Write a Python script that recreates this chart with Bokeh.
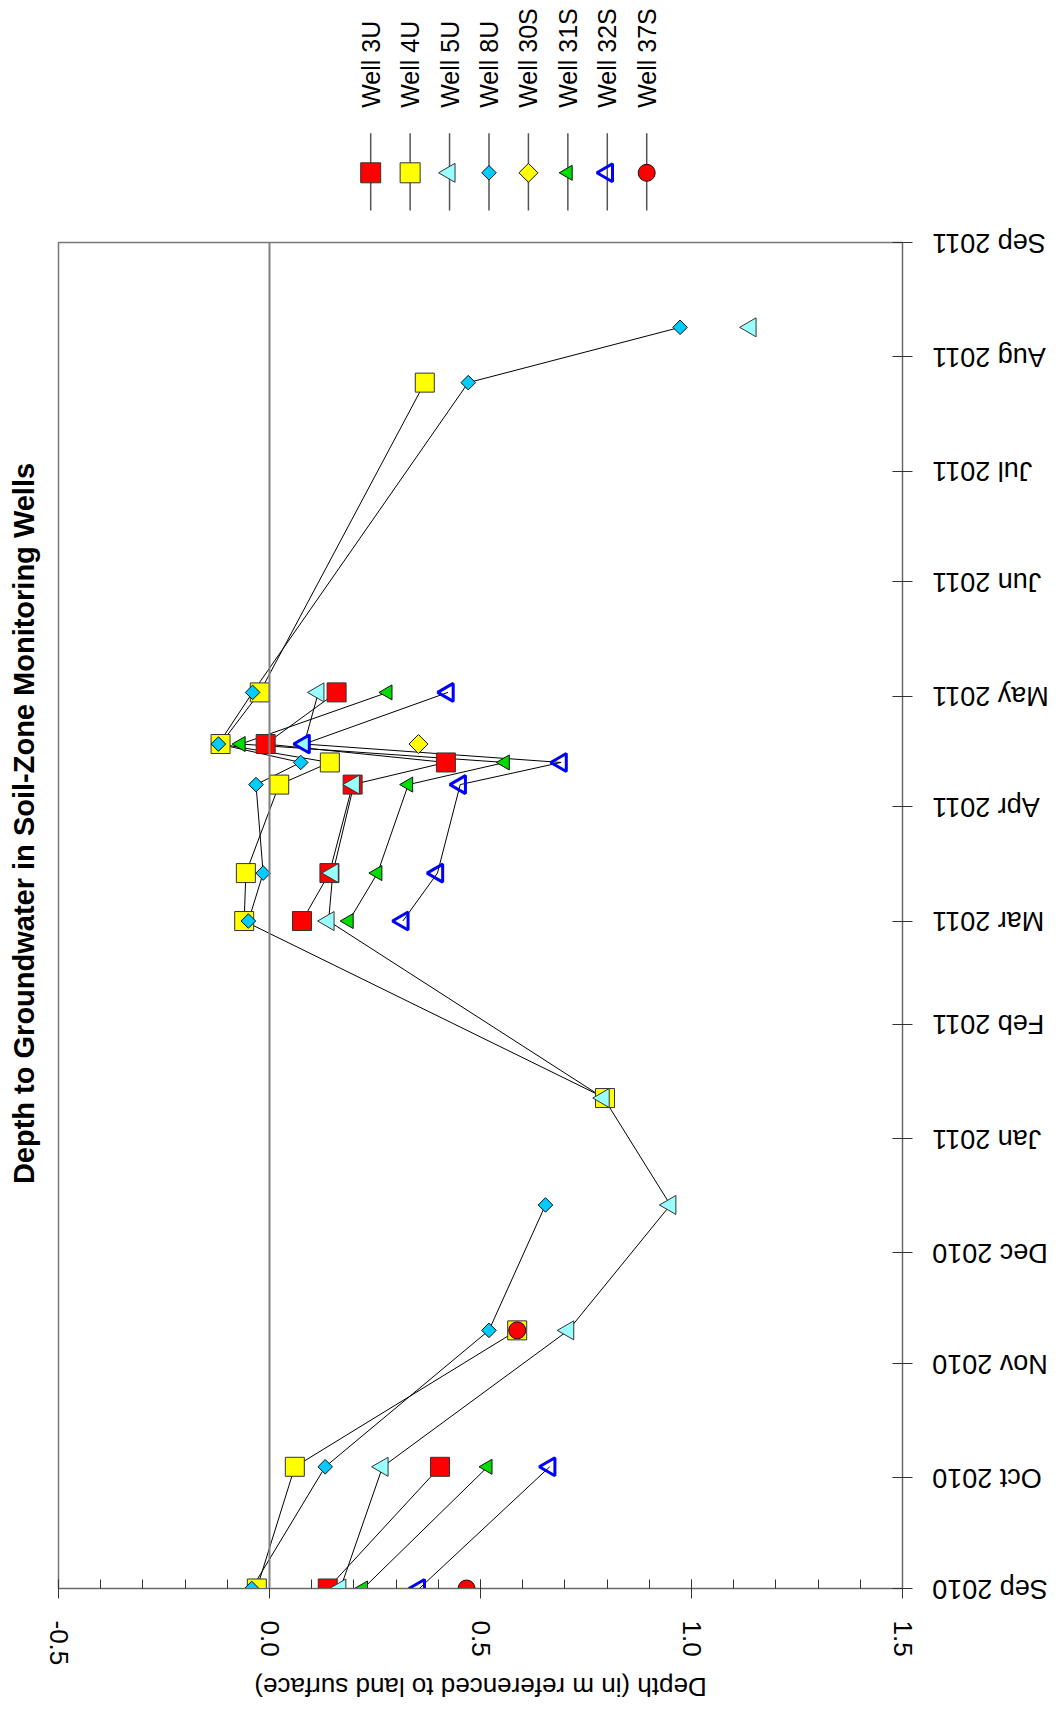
import math
from datetime import datetime
import numpy as np
from bokeh.plotting import figure
from bokeh.layouts import column, row
from bokeh.models import (Range1d, Span, SingleIntervalTicker, NumeralTickFormatter,
                          MonthsTicker, CustomJSTickFormatter, ColumnDataSource)
from bokeh.core.properties import value
from bokeh.embed import file_html
from bokeh.resources import INLINE

nan = float("nan")

# ---- data ----
dates = [datetime(2010, 9, 1), datetime(2010, 10, 4), datetime(2010, 11, 10), datetime(2010, 12, 14),
         datetime(2011, 1, 12), datetime(2011, 3, 1), datetime(2011, 3, 14), datetime(2011, 4, 7),
         datetime(2011, 4, 13), datetime(2011, 4, 18), datetime(2011, 5, 2), datetime(2011, 7, 25),
         datetime(2011, 8, 9)]
well_3U = [0.138, 0.404, nan, nan, nan, 0.077, 0.142, 0.197, 0.418, -0.009, 0.159, nan, nan]
well_4U = [-0.030, 0.060, 0.587, nan, 0.795, -0.060, -0.056, 0.023, 0.143, -0.116, -0.023, 0.368, nan]
well_5U = [0.168, 0.268, 0.708, 0.950, 0.792, 0.140, 0.150, 0.200, nan, 0.082, 0.116, nan, 1.140]
well_8U = [-0.042, 0.132, 0.520, 0.654, nan, -0.050, -0.015, -0.032, 0.074, -0.121, -0.040, 0.471, 0.973]
well_30S = [nan, nan, nan, nan, nan, nan, nan, nan, nan, 0.353, nan, nan, nan]
well_31S = [0.222, 0.517, nan, nan, nan, 0.188, 0.256, 0.329, 0.558, -0.068, 0.280, nan, nan]
well_32S = [0.355, 0.664, nan, nan, nan, 0.316, 0.398, 0.452, 0.691, 0.082, 0.423, nan, nan]
well_37S = [0.467, nan, 0.587, nan, nan, nan, nan, nan, nan, nan, nan, nan, nan]

series_names = ["Well 3U", "Well 4U", "Well 5U", "Well 8U", "Well 30S", "Well 31S", "Well 32S", "Well 37S"]
series_values = [well_3U, well_4U, well_5U, well_8U, well_30S, well_31S, well_32S, well_37S]

month_ticks = [datetime(2010, m, 1) for m in range(9, 13)] + [datetime(2011, m, 1) for m in range(1, 10)]
month_labels = [d.strftime("%b %Y") for d in month_ticks]
title_text = "Depth to Groundwater in Soil-Zone Monitoring Wells"
xlabel_text = "Depth (in m referenced to land surface)"

# ---- styles ----
styles = [
    dict(marker="square", size=19, angle=0, fill_color="#FF0000", line_color="#333333", line_width=1),
    dict(marker="square", size=19, angle=0, fill_color="#FFFF00", line_color="#333333", line_width=1),
    dict(marker="triangle", size=19, angle=math.pi / 2, fill_color="#99FFFF", line_color="#333333", line_width=1),
    dict(marker="square", size=10.3, angle=math.pi / 4, fill_color="#00CCFF", line_color="#111111", line_width=1),
    dict(marker="square", size=13.4, angle=math.pi / 4, fill_color="#FFFF00", line_color="#111111", line_width=1),
    dict(marker="triangle", size=15, angle=math.pi / 2, fill_color="#00DD00", line_color="#111111", line_width=1),
    dict(marker="triangle", size=18, angle=math.pi / 2, fill_color=None, line_color="#0000FF", line_width=3),
    dict(marker="circle", size=17, angle=0, fill_color="#FF0000", line_color="#111111", line_width=1),
]

FONT = "Liberation Sans"
TOTAL_H = 1701
TITLE_W = 42          # width of the title strip
BL, BR = 16, 28       # borders of the main frame
FRAME_W, FRAME_H = 844, 1346
MAIN_TOP, MAIN_BOTTOM = 10, 85
LEG_H = 232
MAIN_W = BL + FRAME_W + BR
MAIN_H = MAIN_TOP + FRAME_H + MAIN_BOTTOM
XLAB_H = TOTAL_H - LEG_H - MAIN_H
DATE_W = 1053 - TITLE_W - MAIN_W

x_range = Range1d(-0.5, 1.5)
y0, y1 = datetime(2010, 9, 1), datetime(2011, 9, 1)
y_range = Range1d(y0, y1)


def bare(width, height, xr, yr, **kw):
    f = figure(width=width, height=height, x_range=xr, y_range=yr,
               x_axis_location=None, y_axis_location=None, toolbar_location=None,
               output_backend="svg", outline_line_color=None, **kw)
    for g in f.grid:
        g.visible = False
    return f


# ---- legend strip (shares the depth range) ----
leg = bare(MAIN_W, LEG_H, x_range, Range1d(0, LEG_H),
           min_border_left=BL, min_border_right=BR, min_border_top=0, min_border_bottom=0)
leg_x0, leg_dx = 0.2398, 0.09344
for i, (name, st) in enumerate(zip(series_names, styles)):
    lx = leg_x0 + i * leg_dx
    leg.segment(x0=[lx], y0=[99.3], x1=[lx], y1=[22], line_color="#555555", line_width=1.5)
    extra = 1 if (st["marker"] == "square" and st["angle"] == 0) else 0
    leg.scatter(x=[lx], y=[59.7], marker=st["marker"], size=st["size"] + extra,
                angle=st["angle"], fill_color=st["fill_color"], line_color=st["line_color"],
                line_width=st["line_width"])
    leg.text(x=[lx], y=[124.7], text=[name], angle=math.pi / 2, text_align="left",
             text_baseline="middle", text_font=value(FONT), text_font_size=value("25px"),
             text_color="black")

# ---- main figure ----
p = figure(width=MAIN_W, height=MAIN_H, x_range=x_range, y_range=y_range,
           y_axis_type="datetime", y_axis_location="right", x_axis_location="below",
           toolbar_location=None, output_backend="svg",
           min_border_left=BL, min_border_right=BR, min_border_top=MAIN_TOP, min_border_bottom=MAIN_BOTTOM)
p.grid.visible = False
p.outline_line_color = "#777777"
p.outline_line_width = 1.5

p.add_layout(Span(location=0, dimension="height", line_color="#808080", line_width=2))

for vals in series_values:
    src = ColumnDataSource(dict(x=np.array(vals, dtype=float), y=dates))
    p.line(x="x", y="y", source=src, line_color="black", line_width=1)
for vals, st in zip(series_values, styles):
    src = ColumnDataSource(dict(x=np.array(vals, dtype=float), y=dates))
    p.scatter(x="x", y="y", source=src, marker=st["marker"], size=st["size"], angle=st["angle"],
              fill_color=st["fill_color"], line_color=st["line_color"], line_width=st["line_width"])

xa = p.xaxis[0]
xa.ticker = SingleIntervalTicker(interval=0.5, num_minor_ticks=5)
xa.formatter = NumeralTickFormatter(format="0.0")
xa.major_label_orientation = "vertical"
xa.major_label_text_font = FONT
xa.major_label_text_font_size = "26px"
xa.major_label_text_color = "black"
xa.major_tick_in = 9
xa.major_tick_out = 10
xa.minor_tick_in = 9
xa.minor_tick_out = 0
xa.major_label_standoff = 22
xa.axis_line_color = "#666666"
xa.major_tick_line_color = "#333333"
xa.minor_tick_line_color = "#333333"

ya = p.yaxis[0]
ya.ticker = MonthsTicker(months=list(range(12)))
ya.formatter = CustomJSTickFormatter(code="return ''")
ya.major_label_standoff = 0
ya.major_tick_in = 10
ya.major_tick_out = 10
ya.minor_tick_in = 0
ya.minor_tick_out = 0
ya.axis_line_color = "#666666"
ya.major_tick_line_color = "#333333"

# ---- axis title strip below (upside down) ----
xlab = bare(MAIN_W, XLAB_H, x_range, Range1d(0, XLAB_H),
            min_border_left=BL, min_border_right=BR, min_border_top=0, min_border_bottom=0)
xlab.text(x=[0.5], y=[XLAB_H - 13], text=[xlabel_text], angle=math.pi, text_align="center",
          text_baseline="middle", text_font=value(FONT), text_font_size=value("26px"), text_color="black")

# ---- date labels strip on the right (same date scale as the frame) ----
ms_per_px = (y1 - y0) / FRAME_H
frame_top_page = LEG_H + MAIN_TOP
frame_bottom_page = frame_top_page + FRAME_H
date_range = Range1d(y0 - (TOTAL_H - frame_bottom_page) * ms_per_px, y1 + frame_top_page * ms_per_px)
datefig = bare(DATE_W, TOTAL_H, Range1d(0, DATE_W), date_range, min_border=0)
datefig.text(x=[1.7] * len(month_ticks), y=month_ticks, text=month_labels, angle=math.pi,
             text_align="right", text_baseline="middle", text_font=value(FONT),
             text_font_size=value("27px"), text_color="black")

# ---- title strip on the left ----
titlefig = bare(TITLE_W, TOTAL_H, Range1d(0, TITLE_W), Range1d(0, TOTAL_H), min_border=0)
titlefig.text(x=[23], y=[TOTAL_H - 823], text=[title_text], angle=math.pi / 2, text_align="center",
              text_baseline="middle", text_font=value(FONT), text_font_size=value("29px"),
              text_font_style="bold", text_color="black")

layout = row(titlefig, column(leg, p, xlab, spacing=0), datefig, spacing=0)
open("out.html", "w").write(file_html(layout, INLINE))
